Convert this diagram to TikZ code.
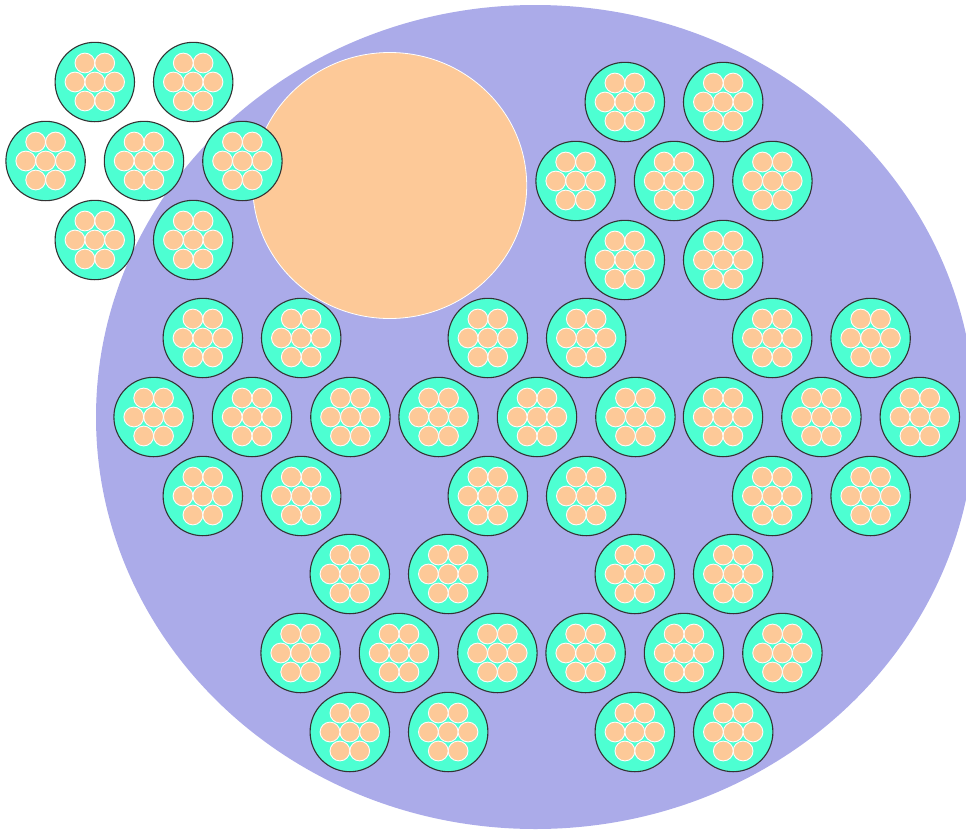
\documentclass[tikz,border=0pt]{standalone}
\definecolor{bgpurple}{HTML}{ABABE9}
\definecolor{cellgreen}{HTML}{4DFFD2}
\definecolor{peach}{HTML}{FDC998}
\tikzset{
  cell/.style={fill=cellgreen, draw=black!80, line width=1.1pt},
  seed/.style={fill=peach, draw=white!95!peach, line width=0.9pt},
  unit/.pic={
    \path[cell] (0,0) circle[radius=39.7];
    \foreach \dx/\dy in {0/0,19.8/0,-19.8/0,9.9/19,-9.9/19,9.9/-19,-9.9/-19}
      \path[seed] (\dx,\dy) circle[radius=9.9];
  },
  cluster/.pic={
    \foreach \ex/\ey in {0/0,98.4/0,-98.4/0,49.2/79,-49.2/79,49.2/-79,-49.2/-79}
      \pic at (\ex,\ey) {unit};
  }
}
\begin{document}
\begin{tikzpicture}[x=1pt,y=-1pt]
  \useasboundingbox (0,0) rectangle (966,830);
  \clip (0,0) rectangle (966,830);
  \fill[bgpurple] (535.4,417) ellipse[x radius=439.4, y radius=412];
  \path[fill=peach, draw=white, line width=0.8pt] (389.7,185.5) ellipse[x radius=137, y radius=133];
  \pic at (144,161) {cluster};
  \pic at (674,181) {cluster};
  \pic at (252,417) {cluster};
  \pic at (537,417) {cluster};
  \pic at (821.4,417) {cluster};
  \pic at (399,653) {cluster};
  \pic at (684,653) {cluster};
\end{tikzpicture}
\end{document}
